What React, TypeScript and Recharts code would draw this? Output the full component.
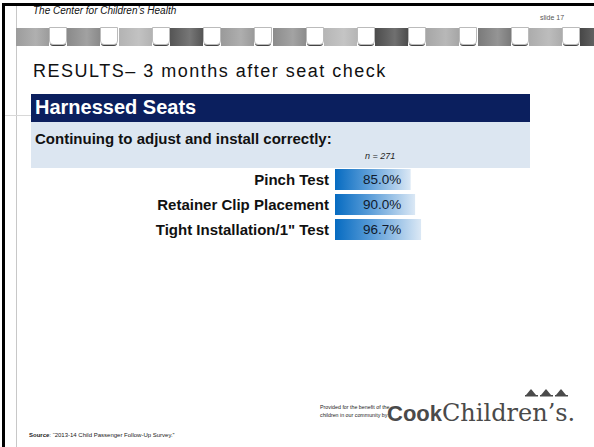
import React from "react";
import { BarChart, Bar, XAxis, YAxis, LabelList } from "recharts";

const categories = ["Pinch Test", "Retainer Clip Placement", 'Tight Installation/1" Test'];
const percentages = [85.0, 90.0, 96.7];
const sampleSize = "n = 271";

// shades of the decorative strip under the header
const stripShades = ["#9c9c9c", "#8a8a8a", "#b3b3b3", "#555555", "#9a9a9a", "#8c8c8c", "#b6b6b6", "#4c4c4c", "#a6a6a6", "#7a7a7a", "#acacac", "#474747"];

const data = categories.map((name, i) => ({ name, value: percentages[i] }));

const SANS = '"Liberation Sans", Arial, sans-serif';

interface TickProps {
  x?: number;
  y?: number;
  payload?: { value: string };
}

const CategoryTick: React.FC<TickProps> = ({ x, y, payload }) => (
  <text x={x} y={y} dy={5} textAnchor="end" fontFamily={SANS} fontWeight="bold" fontSize={15} fill="#111">
    {payload?.value}
  </text>
);

function Strip() {
  return (
    <div style={{ position: "absolute", left: 16, top: 28, width: 578, height: 20 }}>
      {stripShades.map((c, i) => (
        <React.Fragment key={i}>
          <div
            style={{
              position: "absolute",
              left: i * 51.3,
              top: 0,
              width: 33,
              height: 18,
              background: `linear-gradient(90deg, ${c}, ${c}cc 60%, ${c})`,
            }}
          />
          <div
            style={{
              position: "absolute",
              left: i * 51.3 + 33,
              top: -1,
              width: 18,
              height: 18,
              background: "#fff",
              border: "1px solid #bbb",
              borderRadius: "0 0 4px 4px",
              boxSizing: "border-box",
              boxShadow: "0 2px 0 -1px #444",
            }}
          />
        </React.Fragment>
      ))}
    </div>
  );
}

export default function App() {
  return (
    <div
      style={{
        position: "absolute",
        left: 0,
        top: 0,
        width: 594,
        height: 447,
        background: "#fff",
        overflow: "hidden",
        fontFamily: SANS,
      }}
    >
      {/* frame */}
      <div style={{ position: "absolute", left: 2, top: 3, width: 592, height: 3, background: "#000" }} />
      <div style={{ position: "absolute", left: 2, top: 3, width: 3, height: 444, background: "#000" }} />
      <div style={{ position: "absolute", left: 16, top: 6, width: 1, height: 441, background: "#c8c8c8" }} />
      <div style={{ position: "absolute", left: 5, top: 115, width: 26, height: 1, background: "#d8d8d8" }} />

      <div style={{ position: "absolute", left: 33, top: 5, fontSize: 10, fontStyle: "italic", color: "#111" }}>
        The Center for Children&#8217;s Health
      </div>
      <div style={{ position: "absolute", left: 540, top: 14, fontSize: 7, color: "#555" }}>slide 17</div>

      <Strip />

      <div style={{ position: "absolute", left: 33, top: 61, fontSize: 18, letterSpacing: 1.5, color: "#111", whiteSpace: "nowrap" }}>
        RESULTS&#8211; 3 months after seat check
      </div>

      <div style={{ position: "absolute", left: 31, top: 94, width: 499, height: 28, background: "#0b1f5e" }}>
        <div style={{ position: "absolute", left: 4, top: 2, fontSize: 20, fontWeight: "bold", color: "#fff" }}>Harnessed Seats</div>
      </div>
      <div style={{ position: "absolute", left: 31, top: 122, width: 499, height: 46, background: "#dce6f1" }}>
        <div style={{ position: "absolute", left: 4, top: 8, fontSize: 15, fontWeight: "bold", color: "#111" }}>
          Continuing to adjust and install correctly:
        </div>
        <div style={{ position: "absolute", left: 334, top: 29, fontSize: 9, fontStyle: "italic", color: "#222" }}>{sampleSize}</div>
      </div>

      <div style={{ position: "absolute", left: 20, top: 167 }}>
        <BarChart width={420} height={75} data={data} layout="vertical" margin={{ top: 0, right: 16, bottom: 0, left: 0 }}>
          <defs>
            <linearGradient id="barGrad" x1="0" y1="0" x2="1" y2="0">
              <stop offset="0%" stopColor="#066bc1" />
              <stop offset="45%" stopColor="#5e9fd9" />
              <stop offset="100%" stopColor="#dbe8f5" />
            </linearGradient>
          </defs>
          <XAxis type="number" domain={[0, 100]} hide />
          <YAxis
            type="category"
            dataKey="name"
            width={315}
            axisLine={false}
            tickLine={false}
            tickSize={0}
            tickMargin={6}
            tick={<CategoryTick />}
            interval={0}
          />
          <Bar dataKey="value" fill="url(#barGrad)" barSize={21} isAnimationActive={false}>
            <LabelList
              dataKey="value"
              position="insideLeft"
              offset={28}
              formatter={(v: number) => `${v.toFixed(1)}%`}
              style={{ fontFamily: SANS, fontSize: 13.5, fill: "#101a2c" }}
            />
          </Bar>
        </BarChart>
      </div>

      {/* footer */}
      <div style={{ position: "absolute", left: 320, top: 404, fontSize: 5.3, lineHeight: "7.5px", color: "#222", whiteSpace: "nowrap" }}>
        Provided for the benefit of the
        <br />
        children in our community by:
      </div>
      <div style={{ position: "absolute", left: 387, top: 399, whiteSpace: "nowrap", color: "#4a4a4a" }}>
        <span style={{ fontFamily: SANS, fontWeight: 900, fontSize: 22 }}>Cook</span>
        <span style={{ fontFamily: '"DejaVu Serif", serif', fontSize: 24 }}>Children&#8217;s.</span>
      </div>
      <svg style={{ position: "absolute", left: 525, top: 388 }} width={44} height={9}>
        {[0, 15, 30].map((dx) => (
          <g key={dx}>
            <polygon points={`${dx + 1},7 ${dx + 6},1 ${dx + 11},7`} fill="#4a4a4a" />
            <rect x={dx} y={7} width={13} height={1.5} fill="#4a4a4a" />
          </g>
        ))}
      </svg>
      <div style={{ position: "absolute", left: 29, top: 432, fontSize: 6, color: "#222", whiteSpace: "nowrap" }}>
        <b>Source</b>: &#8220;2013-14 Child Passenger Follow-Up Survey.&#8221;
      </div>
    </div>
  );
}
